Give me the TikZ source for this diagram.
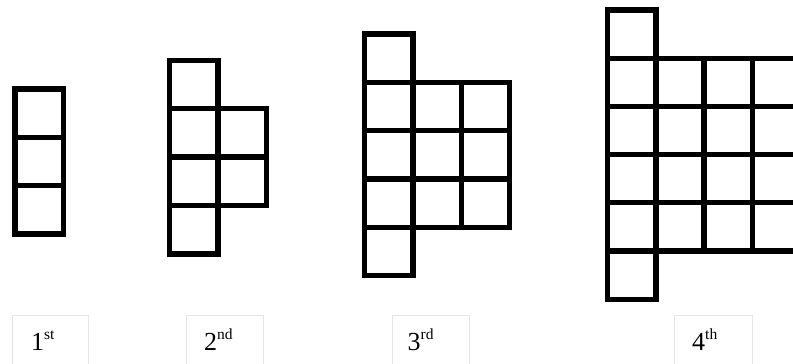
\documentclass[tikz,border=0pt]{standalone}
\usepackage{fontspec}
\setmainfont{Liberation Serif}
\newcommand\ordsup[1]{\raisebox{0.42em}{\fontsize{15.5}{16}\selectfont #1}}
\begin{document}
\begin{tikzpicture}[x=1pt,y=-1pt,
  cell/.style={draw=black,line width=5.3pt,line join=miter},
  labelbox/.style={draw=black!10,line width=1pt},
  ordlabel/.style={anchor=base west,inner sep=0pt,font=\fontsize{26}{30}\selectfont}]
\useasboundingbox (0,0) rectangle (793,364);
\clip (0,0) rectangle (793,364);
\fill[white] (0,0) rectangle (793,364);
% figure 1
\def\s{48.3}
\foreach \r in {0,1,2} \draw[cell] (15,89+\r*\s) rectangle ++(\s,\s);
% figure 2
\def\s{48.4}
\foreach \r in {0,...,3} \draw[cell] (169.7,60.3+\r*\s) rectangle ++(\s,\s);
\foreach \r in {1,2} \draw[cell] (169.7+\s,60.3+\r*\s) rectangle ++(\s,\s);
% figure 3
\def\s{48.3}
\foreach \r in {0,...,4} \draw[cell] (364.7,34+\r*\s) rectangle ++(\s,\s);
\foreach \c in {1,2} \foreach \r in {1,2,3} \draw[cell] (364.7+\c*\s,34+\r*\s) rectangle ++(\s,\s);
% figure 4
\def\s{48.2}
\foreach \r in {0,...,5} \draw[cell] (607.7,10+\r*\s) rectangle ++(\s,\s);
\foreach \c in {1,...,4} \foreach \r in {1,...,4} \draw[cell] (607.7+\c*\s,10+\r*\s) rectangle ++(\s,\s);
% label boxes
\draw[labelbox] (12,315.5) rectangle (88,380);
\draw[labelbox] (186.5,315.5) rectangle (263,380);
\draw[labelbox] (392,315.5) rectangle (469,380);
\draw[labelbox] (674.3,315.5) rectangle (752.3,380);
\node[ordlabel] (l1) at (31,350.5) {1\ordsup{st}};
\node[ordlabel] (l2) at (204,350.5) {2\ordsup{nd}};
\node[ordlabel] (l3) at (407.5,350.5) {3\ordsup{rd}};
\node[ordlabel] (l4) at (692,350.5) {4\ordsup{th}};
\end{tikzpicture}
\end{document}
